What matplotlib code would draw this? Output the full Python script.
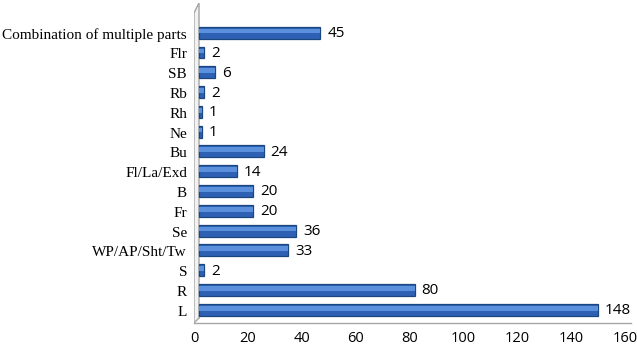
import matplotlib
matplotlib.use("Agg")
import matplotlib.pyplot as plt
from matplotlib.transforms import ScaledTranslation
from matplotlib.lines import Line2D

# data, bottom to top
parts = ["L", "R", "S", "WP/AP/Sht/Tw", "Se", "Fr", "B", "Fl/La/Exd", "Bu",
         "Ne", "Rh", "Rb", "SB", "Flr", "Combination of multiple parts"]
counts = [148, 80, 2, 33, 36, 20, 20, 14, 24, 1, 1, 2, 6, 2, 45]
xticks = [0, 20, 40, 60, 80, 100, 120, 140, 160]

W, H = 637, 349
fig = plt.figure(figsize=(W / 100, H / 100), dpi=100)
fig.patch.set_facecolor("white")

# axes placed in pixel terms
left, right, top, bottom = 194, 625, 3, 323
ax = fig.add_axes([left / W, (H - bottom) / H, (right - left) / W, (bottom - top) / H])
ax.set_xlim(0, 160)
ax.set_ylim(-0.62, 15.55)
for s in ax.spines.values():
    s.set_visible(False)

pos = list(range(len(parts)))
shift = ax.transData + ScaledTranslation(5 / 100, 1 / 100, fig.dpi_scale_trans)

# body of the bars
bars = ax.barh(pos, counts, height=0.6, color="#2e61b4", edgecolor="#1c467f",
               linewidth=0.9, zorder=3)
for b in bars:
    b.set_transform(shift)
# lighter upper band to fake the cylinder shading
hl = ax.barh([p + 0.08 for p in pos], counts, height=0.24, color="#5b90dc",
             linewidth=0, zorder=4)
for b in hl:
    b.set_transform(shift)

# value labels
for p, v in zip(pos, counts):
    ax.annotate(str(v), (v, p), xycoords=shift, xytext=(7, -1),
                textcoords="offset pixels", va="center", ha="left",
                fontsize=11, family="Open Sans", color="black")

ax.set_yticks(pos)
ax.set_yticklabels(parts, family="Liberation Serif", fontsize=11)
ax.set_xticks(xticks)
ax.set_xticklabels([str(t) for t in xticks], family="Open Sans", fontsize=10.5)
ax.tick_params(axis="both", length=0)
ax.tick_params(axis="y", pad=5)
ax.tick_params(axis="x", pad=6)

# the 3-D wall at the left and the floor line, in axes fractions
aw, ah = right - left, bottom - top
gray = "#a6a6a6"
wall_x = [0, 0, 5 / aw, 5 / aw]
wall_y = [0, 1 - 10 / ah, 1, 5 / ah]
ax.fill(wall_x, wall_y, color="#f2f2f2", transform=ax.transAxes, zorder=1)
ax.add_line(Line2D([0, 0, 5 / aw, 5 / aw], [0, 1 - 10 / ah, 1, 5 / ah],
                   color=gray, lw=1, transform=ax.transAxes, zorder=2))
ax.add_line(Line2D([0, 5 / aw], [0, 5 / ah], color=gray, lw=1,
                   transform=ax.transAxes, zorder=2))
ax.add_line(Line2D([0, 1.015], [0, 0], color=gray, lw=1,
                   transform=ax.transAxes, clip_on=False, zorder=2))

fig.savefig("out.png", dpi=100)
